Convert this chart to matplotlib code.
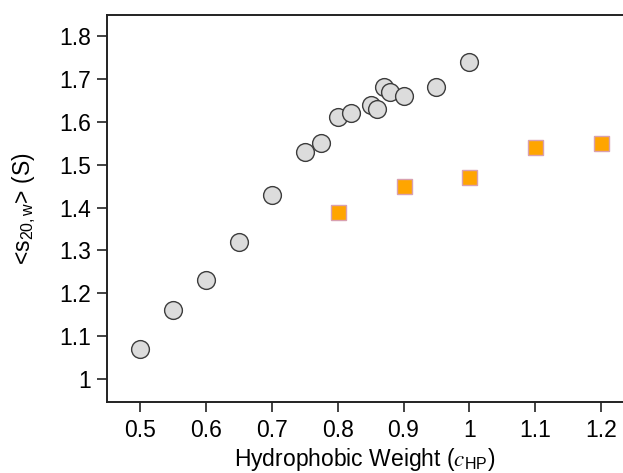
import matplotlib
matplotlib.use("Agg")
import matplotlib.pyplot as plt

# Data
circle_x = [0.5, 0.55, 0.6, 0.65, 0.7, 0.75, 0.775, 0.8, 0.82, 0.85, 0.86, 0.87, 0.88, 0.9, 0.95, 1.0]
circle_y = [1.07, 1.16, 1.23, 1.32, 1.43, 1.53, 1.55, 1.61, 1.62, 1.64, 1.63, 1.68, 1.67, 1.66, 1.68, 1.74]
square_x = [0.8, 0.9, 1.0, 1.1, 1.2]
square_y = [1.39, 1.45, 1.47, 1.54, 1.55]
xticks = [0.5, 0.6, 0.7, 0.8, 0.9, 1.0, 1.1, 1.2]
xtick_labels = ["0.5", "0.6", "0.7", "0.8", "0.9", "1", "1.1", "1.2"]
yticks = [1.0, 1.1, 1.2, 1.3, 1.4, 1.5, 1.6, 1.7, 1.8]
ytick_labels = ["1", "1.1", "1.2", "1.3", "1.4", "1.5", "1.6", "1.7", "1.8"]

plt.rcParams['font.family'] = ['Liberation Sans', 'DejaVu Sans']
plt.rcParams['mathtext.fontset'] = 'stix'

fig = plt.figure(figsize=(6.23, 4.73), dpi=100)
W, H = 623, 473
left, right, top, bottom = 107, 623, 15, 402
ax = fig.add_axes([left / W, (H - bottom) / H, (right - left) / W, (bottom - top) / H])

ax.plot(circle_x, circle_y, linestyle='none', marker='o', markersize=12.8,
        markerfacecolor='#dcdcdc', markeredgecolor='#3c3c3c', markeredgewidth=1.0, zorder=3)
ax.plot(square_x, square_y, linestyle='none', marker='s', markersize=10.8,
        markerfacecolor='#ffa500', markeredgecolor='#d8a0b0', markeredgewidth=1.0, zorder=3)

ax.set_xlim(0.45, 0.45 + (right - left) / 659.0)
ax.set_ylim(1.0 - 23 / 429.0, 1.8 + 21 / 429.0)

ax.set_xticks(xticks)
ax.set_xticklabels(xtick_labels)
ax.set_yticks(yticks)
ax.set_yticklabels(ytick_labels)

ax.tick_params(axis='both', direction='out', length=7.5, width=1.2, color='#222222',
               labelsize=16.5)
ax.tick_params(axis='x', pad=5)
ax.tick_params(axis='y', pad=4)
for s in ['left', 'bottom', 'top']:
    ax.spines[s].set_linewidth(1.4)
    ax.spines[s].set_color('#222222')
ax.spines['right'].set_visible(False)

ax.set_xlabel(r'Hydrophobic Weight ($c_{\mathregular{HP}}$)', fontsize=16.5, labelpad=2.5)
ax.set_ylabel(r'<$\mathregular{s_{20,w}}$> (S)', fontsize=16.5, labelpad=15)

fig.savefig('out.png', dpi=100)
